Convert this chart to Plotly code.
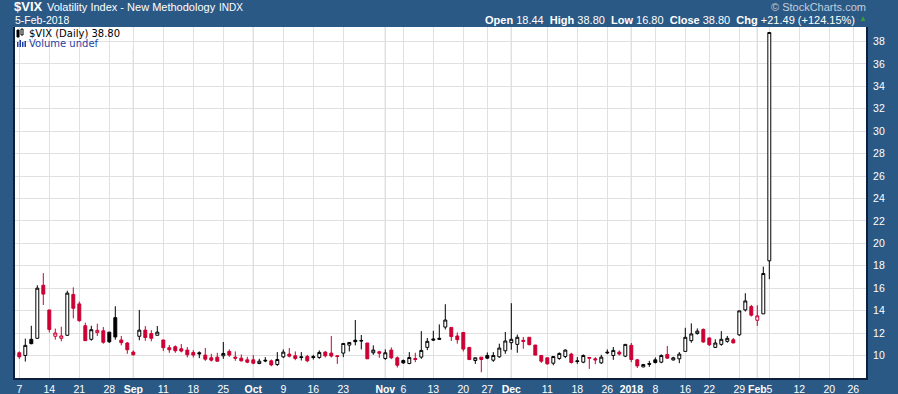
import pandas as pd
import plotly.graph_objects as go

# ---------------- data ----------------
holidays = ["2017-09-04", "2017-11-23", "2017-12-25", "2018-01-01", "2018-01-15", "2018-02-19"]
calendar = [d.strftime("%Y-%m-%d") for d in pd.bdate_range("2017-08-04", "2018-02-28")
            if d.strftime("%Y-%m-%d") not in holidays]

prev_close_start = 10.44  # close before the first candle shown

opens = [10.45, 10.24, 10.00, 11.44, 11.53, 16.26, 14.06, 11.71, 11.53, 11.80,
         15.44, 14.60, 12.65, 11.44, 12.03, 12.20, 12.08, 13.37, 11.38, 11.11,
         10.30, 11.71, 12.26, 11.95, 11.80, 11.38, 10.69, 10.78, 10.60, 10.48,
         10.27, 10.24, 10.03, 9.79, 9.85, 9.97, 10.36, 9.85, 9.76, 9.61,
         9.61, 9.28, 9.58, 9.52, 9.19, 9.88, 10.12, 9.97, 9.88, 9.91,
         9.90, 9.82, 10.30, 10.21, 9.97, 10.21, 10.92, 11.36, 11.34, 11.11,
         10.24, 10.33, 9.73, 10.48, 9.79, 9.55, 9.28, 9.73, 9.85, 10.72,
         11.47, 11.53, 12.53, 12.50, 11.74, 12.05, 10.72, 9.55, 9.85, 10.00,
         9.58, 9.88, 10.42, 11.14, 10.99, 11.35, 11.62, 10.93, 10.00, 9.79,
         9.31, 9.73, 9.91, 10.12, 9.52, 9.40, 9.82, 9.70, 9.34, 10.30,
         10.00, 10.30, 9.94, 10.90, 9.61, 8.98, 9.28, 9.61, 9.40, 10.09,
         9.60, 9.70, 10.36, 11.32, 11.95, 12.32, 11.56, 10.72, 10.99, 11.26,
         11.40, 11.84, 14.06, 14.36, 13.14, 13.71, 18.44]
highs = [10.60, 10.36, 11.50, 12.65, 16.26, 17.34, 14.06, 12.40, 12.56, 15.77,
         16.07, 14.81, 12.92, 12.65, 12.83, 12.53, 12.08, 14.39, 11.74, 11.20,
         10.45, 14.06, 12.62, 12.26, 12.62, 11.38, 10.93, 10.90, 11.02, 10.75,
         10.48, 10.36, 10.66, 10.15, 10.24, 11.20, 10.54, 10.36, 10.09, 9.88,
         10.03, 9.70, 9.85, 9.64, 10.30, 10.54, 10.66, 10.36, 10.30, 10.06,
         10.06, 10.45, 10.39, 11.74, 10.00, 11.08, 11.20, 13.16, 11.83, 11.11,
         10.90, 10.42, 10.54, 10.72, 9.91, 9.64, 10.30, 10.24, 12.17, 11.56,
         12.20, 12.77, 14.57, 12.50, 12.05, 12.05, 10.72, 9.79, 9.85, 10.27,
         10.30, 11.05, 12.10, 14.66, 11.86, 11.65, 11.62, 10.93, 10.00, 9.79,
         9.91, 10.27, 10.54, 10.24, 9.85, 10.09, 9.85, 9.85, 10.06, 10.54,
         10.75, 10.45, 10.99, 11.11, 9.70, 9.25, 9.52, 9.82, 10.09, 10.84,
         9.88, 10.30, 12.47, 12.86, 12.41, 12.41, 11.62, 11.44, 12.17, 11.74,
         11.56, 13.98, 15.55, 14.51, 14.48, 17.92, 38.80]
lows = [9.95, 9.70, 9.46, 11.00, 11.50, 14.50, 12.05, 11.41, 11.26, 11.74,
        13.31, 13.00, 11.32, 11.32, 11.74, 11.05, 11.11, 11.41, 10.90, 10.15,
        10.00, 11.35, 11.30, 11.26, 11.80, 10.39, 10.24, 10.24, 10.27, 9.82,
        9.82, 9.76, 9.52, 9.46, 9.46, 9.70, 9.88, 9.52, 9.46, 9.31,
        9.22, 9.22, 9.40, 9.04, 9.07, 9.76, 9.82, 9.58, 9.55, 9.40,
        9.64, 9.70, 9.82, 9.82, 9.25, 9.85, 10.36, 10.90, 10.54, 9.70,
        10.06, 9.79, 9.61, 9.67, 8.92, 9.25, 9.22, 9.40, 9.70, 10.48,
        11.29, 11.40, 12.32, 11.29, 11.05, 10.36, 9.58, 9.25, 8.50, 9.67,
        9.43, 9.79, 10.15, 10.51, 10.24, 10.60, 10.90, 10.03, 9.34, 9.19,
        9.13, 9.61, 9.76, 9.28, 9.25, 9.31, 8.80, 9.22, 9.25, 10.12,
        9.61, 10.00, 9.85, 9.40, 8.89, 8.95, 8.98, 9.28, 9.31, 9.70,
        9.55, 9.31, 10.36, 11.14, 11.86, 11.14, 10.84, 10.66, 10.87, 11.14,
        11.08, 11.75, 13.92, 13.47, 12.64, 13.71, 16.80]
closes = [10.03, 9.88, 10.90, 11.05, 16.00, 15.47, 12.32, 12.00, 11.74, 15.56,
          14.21, 13.10, 11.32, 12.30, 12.24, 11.18, 11.22, 11.65, 11.14, 10.51,
          10.06, 12.26, 11.60, 11.53, 12.08, 10.69, 10.51, 10.42, 10.39, 10.06,
          10.04, 10.15, 9.67, 9.58, 9.49, 10.18, 10.03, 9.76, 9.52, 9.40,
          9.31, 9.49, 9.52, 9.16, 9.64, 10.30, 9.94, 9.73, 9.82, 9.52,
          9.82, 10.27, 9.97, 9.95, 9.91, 11.07, 11.16, 11.23, 11.30, 9.70,
          10.48, 10.20, 10.24, 9.79, 9.13, 9.34, 9.82, 9.64, 10.45, 11.26,
          11.38, 11.45, 13.16, 11.68, 11.41, 10.57, 9.64, 9.79, 9.64, 9.76,
          10.00, 10.66, 11.29, 11.44, 11.62, 11.26, 10.96, 10.03, 9.49, 9.25,
          9.91, 10.18, 10.48, 9.37, 9.46, 10.00, 9.76, 9.61, 9.85, 10.24,
          10.45, 10.12, 10.99, 9.64, 9.07, 9.19, 9.22, 9.37, 10.00, 9.76,
          9.79, 10.12, 11.62, 11.92, 12.17, 11.20, 10.96, 11.11, 11.44, 11.53,
          11.12, 13.98, 14.86, 13.59, 13.53, 17.31, 38.80]

tick_dates = ["2017-08-07", "2017-08-14", "2017-08-21", "2017-08-28", "2017-09-01",
              "2017-09-11", "2017-09-18", "2017-09-25", "2017-10-02", "2017-10-09",
              "2017-10-16", "2017-10-23", "2017-11-01", "2017-11-06", "2017-11-13",
              "2017-11-20", "2017-11-27", "2017-12-01", "2017-12-11", "2017-12-18",
              "2017-12-26", "2018-01-02", "2018-01-08", "2018-01-16", "2018-01-22",
              "2018-01-29", "2018-02-01", "2018-02-05", "2018-02-12", "2018-02-20",
              "2018-02-26"]
tick_labels = ["7", "14", "21", "28", "<b>Sep</b>", "11", "18", "25", "<b>Oct</b>", "9",
               "16", "23", "<b>Nov</b>", "6", "13", "20", "27", "<b>Dec</b>", "11", "18",
               "26", "<b>2018</b>", "8", "16", "22", "29", "<b>Feb</b>", "5", "12", "20", "26"]
month_dates = ["2017-09-01", "2017-10-02", "2017-11-01", "2017-12-01", "2018-01-02", "2018-02-01"]
y_ticks = list(range(10, 40, 2))

# ---------------- build ----------------
pos = list(range(len(closes)))
prevs = [prev_close_start] + closes[:-1]
up_prev = [c >= p for c, p in zip(closes, prevs)]

BLACK = "#000000"
RED = "#cc0033"
BG = "#2b5985"
NAVY = "#0e1f3d"

fig = go.Figure()
for flag, col in ((True, BLACK), (False, RED)):
    idx = [i for i in pos if up_prev[i] == flag]
    fig.add_trace(go.Candlestick(
        x=[pos[i] for i in idx],
        open=[opens[i] for i in idx], high=[highs[i] for i in idx],
        low=[lows[i] for i in idx], close=[closes[i] for i in idx],
        increasing=dict(line=dict(color=col, width=1), fillcolor="white"),
        decreasing=dict(line=dict(color=col, width=1), fillcolor=col),
        whiskerwidth=0, showlegend=False, hoverinfo="skip"))

tick_pos = [calendar.index(d) for d in tick_dates]
month_pos = [calendar.index(d) for d in month_dates]

L, R, T, B = 15, 866, 27, 378
W, H = 898, 394


def px(x):
    return (x - L) / (R - L)


def py(y):
    return (B - y) / (B - T)


x0 = 1 - (19.3 - L) / 6.0
x1 = 1 + (R - 19.3) / 6.0

shapes = []
for m in month_pos:
    shapes.append(dict(type="line", xref="x", yref="paper", x0=m, x1=m, y0=0, y1=1,
                       line=dict(color="#b4b4b4", width=1), layer="between"))
# white box behind the in-plot legend
shapes.append(dict(type="rect", xref="paper", yref="paper", x0=px(15.5), x1=px(133),
                   y0=py(49), y1=py(27.5), fillcolor="white", line=dict(width=0),
                   layer="between"))
# small icons
shapes.append(dict(type="rect", xref="paper", yref="paper", x0=px(17), x1=px(19),
                   y0=py(37), y1=py(30), fillcolor="black", line=dict(color="black", width=1)))
shapes.append(dict(type="rect", xref="paper", yref="paper", x0=px(21), x1=px(23),
                   y0=py(35), y1=py(29), fillcolor="white", line=dict(color="black", width=1)))
for bx, top in ((17, 42), (19.5, 40), (22, 42), (24.5, 41)):
    shapes.append(dict(type="rect", xref="paper", yref="paper", x0=px(bx), x1=px(bx + 1.5),
                       y0=py(47), y1=py(top), fillcolor="#1f3fa3", line=dict(width=0)))

SANS = "Liberation Sans, Arial, sans-serif"


def ann(text, x, y, xanchor="left", size=11, color="white", family=SANS):
    return dict(text=text, xref="paper", yref="paper", x=px(x), y=py(y),
                xanchor=xanchor, yanchor="middle", showarrow=False,
                font=dict(size=size, color=color, family=family))


annotations = [
    ann("<b>$VIX</b>", 12, 6.5, size=13),
    ann("Volatility Index - New Methodology", 45, 7, size=11),
    ann("INDX", 217, 7, size=10),
    ann("5-Feb-2018", 13, 19.5, size=10.5),
    ann("© StockCharts.com", 868, 7, xanchor="right", size=11, color="#c3cfdc"),
    ann("<b>Open</b> 18.44  <b>High</b> 38.80  <b>Low</b> 16.80  <b>Close</b> 38.80  "
        "<b>Chg</b> +21.49 (+124.15%)", 857, 20, xanchor="right", size=11),
    ann("▲", 863, 18.5, xanchor="center", size=8, color="#3c9a3c"),
    ann("$VIX (Daily) 38.80", 27, 33, size=10, color="black", family="DejaVu Sans"),
    ann("Volume undef", 27, 44, size=10, color="#1f3fa3", family="DejaVu Sans"),
]

fig.update_layout(
    width=W, height=H,
    margin=dict(l=L, r=W - R, t=T, b=H - B, pad=0, autoexpand=False),
    paper_bgcolor=BG, plot_bgcolor="white",
    shapes=shapes, annotations=annotations,
    xaxis=dict(range=[x0, x1], tickvals=tick_pos, ticktext=tick_labels,
               showgrid=True, gridcolor="#e0e0e0", gridwidth=1, zeroline=False,
               tickfont=dict(size=10.5, color="white", family=SANS),
               tickangle=0, automargin=False,
               ticks="", showline=True, linecolor=NAVY, linewidth=2,
               rangeslider=dict(visible=False), fixedrange=True),
    yaxis=dict(range=[7.99, 39.29], side="right", tickvals=y_ticks,
               ticktext=[str(v) for v in y_ticks], automargin=False,
               showgrid=True, gridcolor="#e0e0e0", gridwidth=1, zeroline=False,
               tickfont=dict(size=10.5, color="white", family=SANS),
               ticks="", ticklabelstandoff=3, fixedrange=True,
               showline=True, linecolor=NAVY, linewidth=2, mirror=True),
    hovermode=False,
)

fig.write_html("out.html", config={"displayModeBar": False},
               post_script="document.body.style.margin='0px';")
